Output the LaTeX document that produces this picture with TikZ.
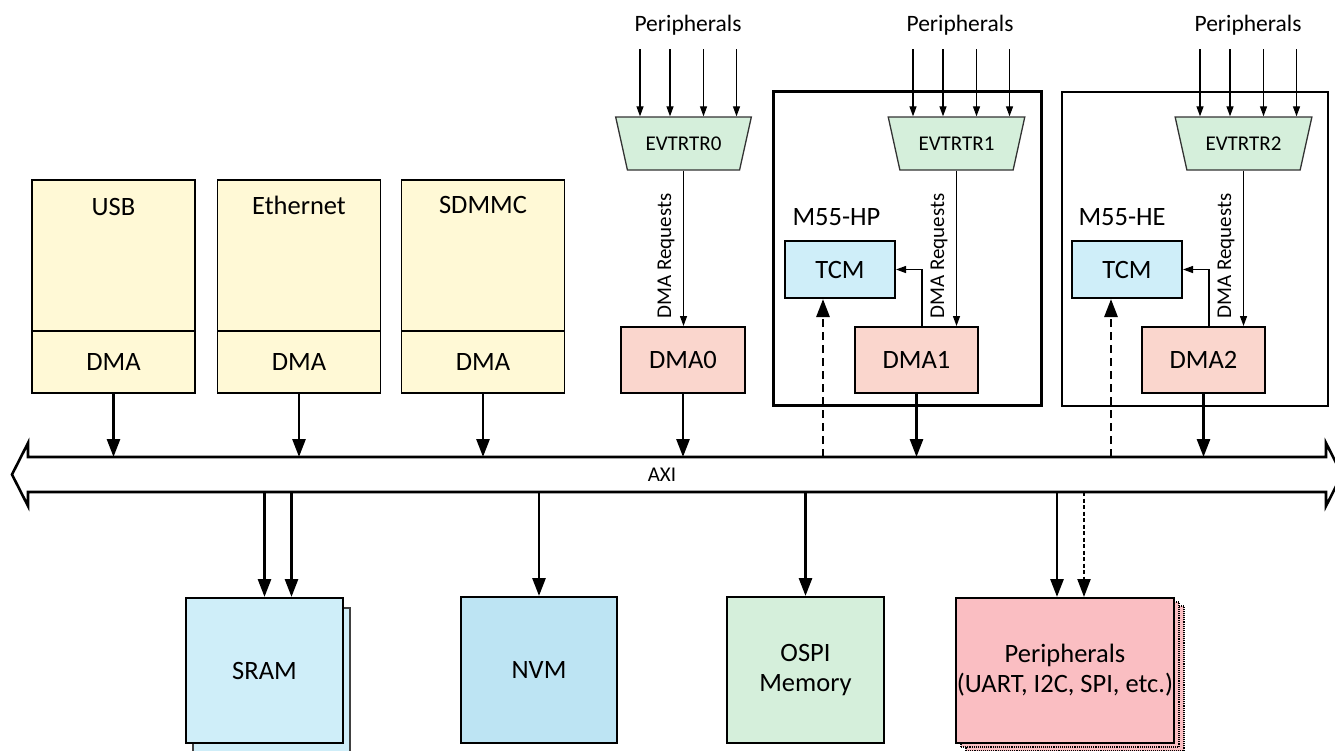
\documentclass[tikz,border=0pt]{standalone}
\usepackage{fontspec}
\setmainfont{Carlito}
\usetikzlibrary{arrows.meta,shapes.geometric,positioning}

\definecolor{devyellow}{RGB}{255,249,214}
\definecolor{evtgreen}{RGB}{213,239,219}
\definecolor{dmapink}{RGB}{250,214,205}
\definecolor{tcmblue}{RGB}{207,238,249}
\definecolor{nvmblue}{RGB}{189,228,243}
\definecolor{perpink}{RGB}{250,190,194}

\tikzset{
  big/.style={font=\fontsize{26.5}{30}\selectfont},
  small/.style={font=\fontsize{21}{25}\selectfont},
  blk/.style={draw, line width=2pt, big, align=center, inner sep=0pt},
  dev/.style={blk, line width=1.7pt, fill=devyellow, minimum width=163pt},
  evt/.style={trapezium, trapezium left angle=120, trapezium right angle=120,
    trapezium stretches=true, draw=black!80, line width=1.3pt, fill=evtgreen,
    minimum width=137pt, minimum height=53pt, small, inner sep=0pt},
  core/.style={draw, line width=2.7pt, minimum width=268pt, minimum height=314pt},
  bus/.style={-{Triangle[length=18pt,width=13pt]}, line width=2.8pt},
  req/.style={-{Triangle[length=10pt,width=7pt]}, line width=1.3pt},
  snoop/.style={bus, dash pattern=on 8pt off 5pt},
}

\begin{document}
\begin{tikzpicture}[x=1pt, y=-1pt]
\useasboundingbox (0,0) rectangle (1335,750);
\clip (0,0) rectangle (1335,750);

% AXI bus
\draw [line width=2.6pt] (12,474.5) -- (28,443) -- (28,457) -- (1326,457) -- (1326,443)
  -- (1342,474.5) -- (1326,506) -- (1326,492) -- (28,492) -- (28,506) -- cycle;
\coordinate (axit) at (0,457);
\coordinate (axib) at (0,492);
\node [small] (axi) at (662,475) {AXI};

% bus masters with their own DMA
\node [dev, minimum height=151pt] (usb) at (113.5,255.5) {};
\node [dev, minimum height=62pt] (usbdma) at (113.5,362) {DMA};
\node [big] (usbname) at (113.5,207) {USB};
\node [dev, minimum height=151pt] (eth) at (299,255.5) {};
\node [dev, minimum height=62pt] (ethdma) at (299,362) {DMA};
\node [big] (ethname) at (299,205) {Ethernet};
\node [dev, minimum height=151pt] (sdmmc) at (483,255.5) {};
\node [dev, minimum height=62pt] (sdmmcdma) at (483,362) {DMA};
\node [big] (sdmmcname) at (483,205) {SDMMC};

% cores
\node [core] (hp) at (907.5,248.5) {};
\node [big, anchor=west] (hpname) at (789,217) {M55-HP};
\node [core, minimum width=266pt] (he) at (1195,249) {};
\node [big, anchor=west] (hename) at (1075,217) {M55-HE};

% event routers
\node [evt] (evt0) at (683.5,143.5) {EVTRTR0};
\node [evt] (evt1) at (956.5,143.5) {EVTRTR1};
\node [evt] (evt2) at (1243.5,143.5) {EVTRTR2};
\node [small, font=\fontsize{23.5}{27}\selectfont] (per0) at (688,25) {Peripherals};
\node [small, font=\fontsize{23.5}{27}\selectfont] (per1) at (960,25) {Peripherals};
\node [small, font=\fontsize{23.5}{27}\selectfont] (per2) at (1248,25) {Peripherals};
\foreach \e in {evt0,evt1,evt2}
  \foreach \d in {-43.5,-13.5,20,53}
    \draw [req] (\e.north) ++(\d,-67) -- ++(0,67);

% DMA engines and TCMs
\node [blk, fill=dmapink, minimum width=124pt, minimum height=66pt] (dma0) at (683,360) {DMA0};
\node [blk, fill=dmapink, minimum width=123pt, minimum height=66pt] (dma1) at (916.5,360) {DMA1};
\node [blk, fill=dmapink, minimum width=123pt, minimum height=66pt] (dma2) at (1203.5,360) {DMA2};
\node [blk, fill=tcmblue, minimum width=110pt, minimum height=57pt] (tcm1) at (840,269.5) {TCM};
\node [blk, fill=tcmblue, minimum width=110pt, minimum height=57pt] (tcm2) at (1127,269.5) {TCM};

\draw [req] (evt0.south) -- node [small, rotate=90, anchor=south, inner sep=0pt, outer sep=9pt, pos=0.55] {DMA Requests} (evt0.south |- dma0.north);
\draw [req] (evt1.south) -- node [small, rotate=90, anchor=south, inner sep=0pt, outer sep=9pt, pos=0.55] {DMA Requests} (evt1.south |- dma1.north);
\draw [req] (evt2.south) -- node [small, rotate=90, anchor=south, inner sep=0pt, outer sep=9pt, pos=0.55] {DMA Requests} (evt2.south |- dma2.north);
\draw [req] ([xshift=5.5pt]dma1.north) |- (tcm1.east);
\draw [req] ([xshift=5.5pt]dma2.north) |- (tcm2.east);

% masters onto the bus
\draw [bus] (usbdma.south) -- (usbdma.south |- axit);
\draw [bus] (ethdma.south) -- (ethdma.south |- axit);
\draw [bus] (sdmmcdma.south) -- (sdmmcdma.south |- axit);
\draw [bus] (dma0.south) -- (dma0.south |- axit);
\draw [bus] (dma1.south) -- (dma1.south |- axit);
\draw [bus] (dma2.south) -- (dma2.south |- axit);
\draw [snoop] ([xshift=-17pt]tcm1.south |- axit) -- ([xshift=-17pt]tcm1.south);
\draw [snoop] ([xshift=-16pt]tcm2.south |- axit) -- ([xshift=-16pt]tcm2.south);

% slaves
\node [blk, line width=1.1pt, draw=black!75, fill=tcmblue, minimum width=157pt, minimum height=145pt] (sramb) at (271.5,680.5) {};
\node [blk, fill=tcmblue, minimum width=157pt, minimum height=145pt] (sram) at (264.5,670.5) {SRAM};
\node [blk, fill=nvmblue, minimum width=156pt, minimum height=146pt] (nvm) at (539,670) {NVM};
\node [blk, fill=evtgreen, minimum width=157pt, minimum height=146pt] (ospi) at (805.5,670) {OSPI\\Memory};
\node [blk, line width=1.1pt, densely dotted, fill=perpink, minimum width=218pt, minimum height=145pt] (perb2) at (1075,678.5) {};
\node [blk, line width=1.1pt, densely dotted, fill=perpink, minimum width=218pt, minimum height=145pt] (perb1) at (1070,674.5) {};
\node [blk, fill=perpink, minimum width=218pt, minimum height=145pt] (per) at (1065,670.5) {Peripherals\\(UART, I2C, SPI, etc.)};

\draw [bus] (sram.north |- axib) -- (sram.north);
\draw [bus] ([xshift=27pt]sram.north |- axib) -- ([xshift=27pt]sram.north);
\draw [bus] (nvm.north |- axib) -- (nvm.north);
\draw [bus] (ospi.north |- axib) -- (ospi.north);
\draw [bus] ([xshift=-8pt]per.north |- axib) -- ([xshift=-8pt]per.north);
\draw [bus, line width=2.2pt, dash pattern=on 4pt off 2.5pt] ([xshift=19pt]per.north |- axib) -- ([xshift=19pt]per.north);
\end{tikzpicture}
\end{document}
